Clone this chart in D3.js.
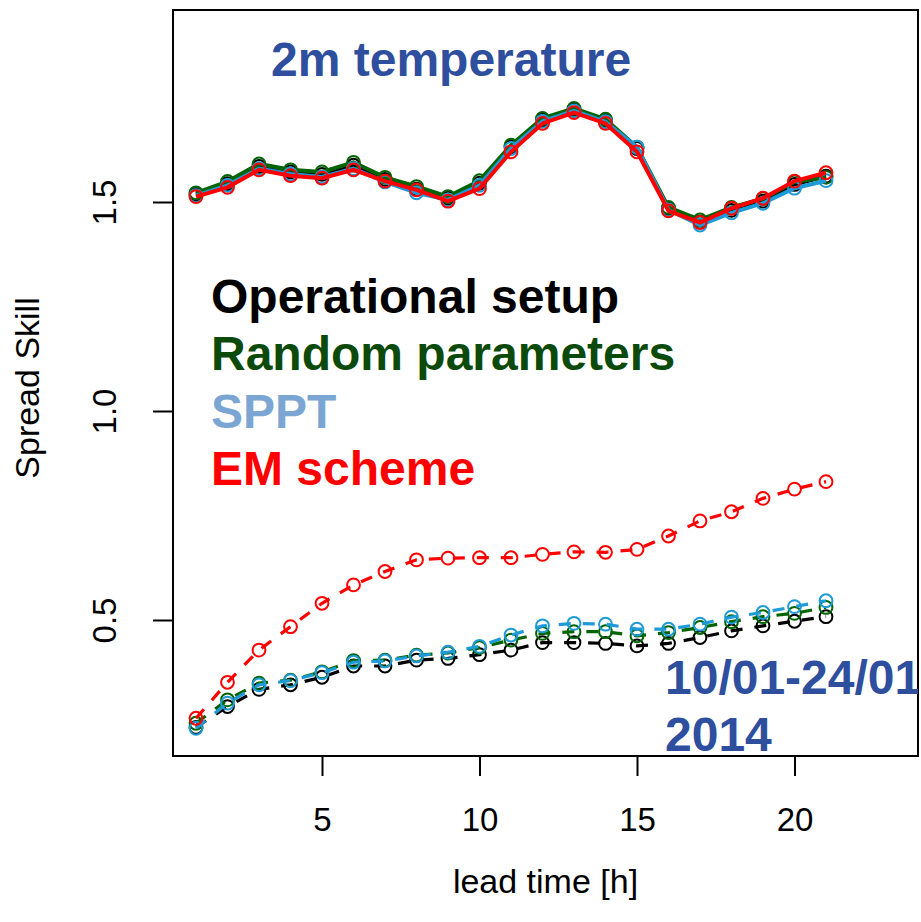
<!DOCTYPE html>
<html><head><meta charset="utf-8">
<script src="https://cdn.jsdelivr.net/npm/d3@7"></script>
<style>body{margin:0;background:#fff}svg{display:block}text{font-family:"Liberation Sans",Arial,Helvetica,sans-serif}</style>
</head><body>
<script>
const leadTime = d3.range(1, 22);
const xTicks = [5, 10, 15, 20];
const yTicks = [0.5, 1.0, 1.5];
const yTickLabels = ["0.5", "1.0", "1.5"];

// solid lines (upper group)
const opTop   = [1.518,1.544,1.585,1.572,1.566,1.588,1.554,1.531,1.509,1.545,1.632,1.697,1.721,1.695,1.628,1.484,1.452,1.480,1.502,1.542,1.562];
const rpTop   = [1.522,1.549,1.591,1.577,1.572,1.595,1.559,1.537,1.513,1.551,1.636,1.700,1.724,1.698,1.631,1.487,1.457,1.487,1.508,1.548,1.559];
const spptTop = [1.515,1.540,1.580,1.567,1.560,1.580,1.548,1.522,1.505,1.540,1.628,1.693,1.718,1.692,1.631,1.481,1.445,1.474,1.497,1.533,1.551];
const emTop   = [1.513,1.535,1.577,1.563,1.557,1.577,1.550,1.529,1.502,1.532,1.620,1.688,1.714,1.688,1.620,1.479,1.451,1.485,1.509,1.550,1.570];

// dashed lines (lower group)
const opBot   = [0.243,0.293,0.334,0.345,0.363,0.390,0.390,0.404,0.408,0.417,0.428,0.446,0.446,0.444,0.438,0.444,0.458,0.474,0.486,0.497,0.508];
const rpBot   = [0.253,0.309,0.349,0.356,0.376,0.403,0.404,0.416,0.421,0.434,0.452,0.468,0.472,0.472,0.462,0.470,0.482,0.496,0.508,0.516,0.530];
const spptBot = [0.241,0.301,0.345,0.355,0.374,0.399,0.402,0.414,0.423,0.437,0.464,0.486,0.492,0.490,0.478,0.478,0.490,0.507,0.518,0.532,0.546];
const emBot   = [0.265,0.351,0.428,0.484,0.540,0.584,0.616,0.644,0.648,0.649,0.649,0.657,0.663,0.662,0.669,0.701,0.737,0.759,0.791,0.813,0.831];

const seriesNames = ["Operational setup", "Random parameters", "SPPT", "EM scheme"];
const lineColors = ["#000000", "#006400", "#1E9BD7", "#FF0000"];
const legendColors = ["#000000", "#0B4A0B", "#7BA6D3", "#FF0000"];
const titleText = "2m temperature";
const dateLines = ["10/01-24/01", "2014"];
const xLabel = "lead time [h]";
const yLabel = "Spread Skill";

const W = 921, H = 922;
const box = {l: 173, r: 918, t: 10, b: 756};
const x = d3.scaleLinear().domain([1, 21]).range([196, 826]);
const y = d3.scaleLinear().domain([0.5, 1.5]).range([620, 202]);

const svg = d3.select("body").append("svg").attr("width", W).attr("height", H);
svg.append("defs").append("clipPath").attr("id", "clip")
  .append("rect").attr("x", box.l).attr("y", box.t).attr("width", box.r - box.l).attr("height", box.b - box.t);

const plot = svg.append("g").attr("clip-path", "url(#clip)");

const line = d3.line().x((d, i) => x(leadTime[i])).y(d => y(d));

function drawSeries(vals, color, dashed) {
  plot.append("path").datum(vals)
    .attr("d", line).attr("fill", "none").attr("stroke", color)
    .attr("stroke-width", dashed ? 3.2 : 4)
    .attr("stroke-dasharray", dashed ? "12,12" : null);
  plot.append("g").selectAll("circle").data(vals).join("circle")
    .attr("cx", (d, i) => x(leadTime[i])).attr("cy", d => y(d))
    .attr("r", 6.4).attr("fill", "none").attr("stroke", color).attr("stroke-width", 2);
}
const tops = [opTop, rpTop, spptTop, emTop];
const bots = [opBot, rpBot, spptBot, emBot];
tops.forEach((s, k) => drawSeries(s, lineColors[k], false));
bots.forEach((s, k) => drawSeries(s, lineColors[k], true));

// box
svg.append("rect").attr("x", box.l).attr("y", box.t).attr("width", box.r - box.l).attr("height", box.b - box.t)
  .attr("fill", "none").attr("stroke", "#000").attr("stroke-width", 2);

// axes
const xAxis = d3.axisBottom(x).tickValues(xTicks).tickSize(20).tickPadding(32).tickFormat(d3.format("d"));
const gx = svg.append("g").attr("transform", `translate(0,${box.b})`).call(xAxis);
gx.select(".domain").attr("d", `M${x(xTicks[0])},0H${x(xTicks[xTicks.length-1])}`).attr("stroke-width", 2);
gx.selectAll(".tick line").attr("stroke-width", 2);
gx.selectAll(".tick text").attr("font-size", 33).attr("fill", "#000").attr("font-family", '"Liberation Sans",Arial,sans-serif');

const yAxis = d3.axisLeft(y).tickValues(yTicks).tickSize(20).tickFormat((d, i) => yTickLabels[i]);
const gy = svg.append("g").attr("transform", `translate(${box.l},0)`).call(yAxis);
gy.select(".domain").attr("d", `M0,${y(yTicks[0])}V${y(yTicks[yTicks.length-1])}`).attr("stroke-width", 2);
gy.selectAll(".tick line").attr("stroke-width", 2);
gy.selectAll(".tick text").remove();
gy.selectAll(".tick").append("text")
  .attr("transform", "translate(-57,0) rotate(-90)")
  .attr("text-anchor", "middle").attr("font-size", 33).attr("fill", "#000")
  .text((d, i) => yTickLabels[i]);

svg.append("text").attr("x", (box.l + box.r) / 2 - 0).attr("y", 893)
  .attr("text-anchor", "middle").attr("font-size", 34).text(xLabel);
svg.append("text").attr("transform", `translate(39,388) rotate(-90)`)
  .attr("text-anchor", "middle").attr("font-size", 34).text(yLabel);

// title and annotations
svg.append("text").attr("x", 271).attr("y", 76).attr("font-size", 48).attr("font-weight", "bold")
  .attr("fill", "#2E4E9E").text(titleText);

seriesNames.forEach((n, k) => {
  svg.append("text").attr("x", 211).attr("y", 313 + k * 57.3).attr("font-size", 48)
    .attr("font-weight", "bold").attr("fill", legendColors[k]).text(n);
});

const dateG = svg.append("g").attr("clip-path", "url(#clip)");
dateLines.forEach((t, k) => {
  dateG.append("text").attr("x", 665).attr("y", 694 + k * 57).attr("font-size", 48)
    .attr("font-weight", "bold").attr("fill", "#2E4E9E").text(t);
});
</script>
</body></html>
